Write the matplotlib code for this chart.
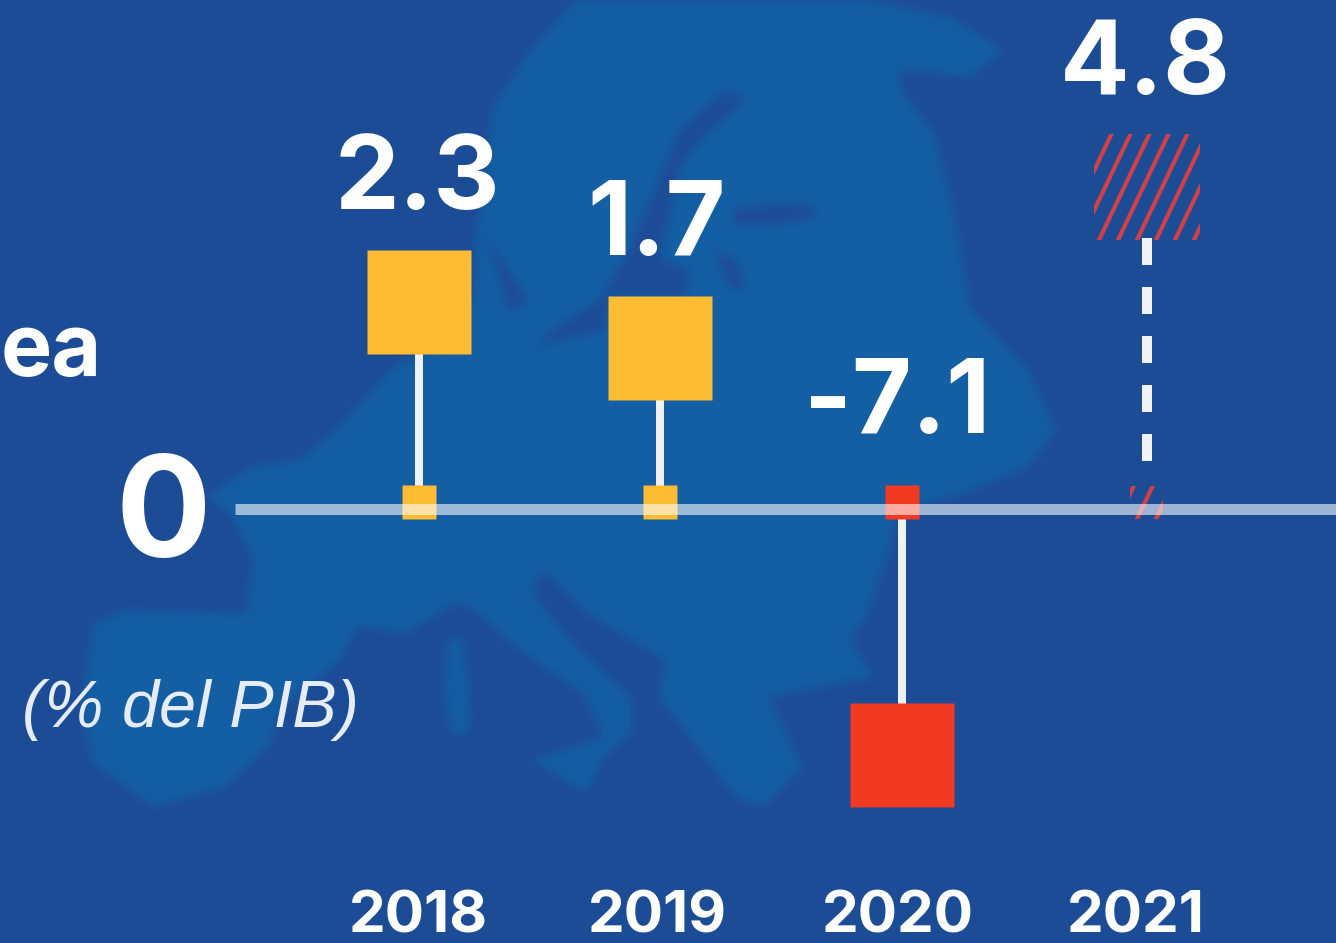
import numpy as np
import matplotlib
matplotlib.use("Agg")
import matplotlib.pyplot as plt
from matplotlib.lines import Line2D
from matplotlib.patches import Rectangle
from matplotlib.transforms import Affine2D

# Data
years = [2018, 2019, 2020, 2021]
values = [2.3, 1.7, -7.1, 4.8]
value_labels = ["2.3", "1.7", "-7.1", "4.8"]
year_labels = ["2018", "2019", "2020", "2021"]
zero_label = "0"
unit_label = "(% del PIB)"
title_fragment = "ea"

# The picture's axes are not linear, so the scales go through these knots
scale_values = [-14, -7.1, 0, 1.7, 2.3, 4.8, 9]
scale_pixels = [-490, -246, 0, 161, 207, 322, 560]
scale_years = [2015, 2018, 2019, 2020, 2021, 2023]
scale_columns = [-304, 419, 660, 902, 1147, 1636]

BG = "#1D4C96"
LAND = "#145EA3"
YELLOW = "#FBBC34"
RED = "#F23A22"
HATCH = "#CF4049"
WHITE = "#FFFFFF"
FONT = "Inter"

# Map silhouette behind the chart, in picture pixels
land_x = [575, 869, 950, 1003, 970, 901, 901, 934, 954, 970, 1028, 1056, 1028, 960, 900, 890, 868, 851, 873,
          769, 802, 763, 736, 697, 659, 664, 587, 543, 532, 576, 631, 631, 604, 587, 532, 604, 582, 516, 478,
          456, 406, 357, 340, 280, 269, 225, 153, 93, 82, 93, 126, 247, 252, 257, 230, 207, 250, 300, 333, 393,
          440, 472, 476, 493, 530]
land_y = [0, 0, 17, 50, 77, 70, 90, 133, 213, 307, 370, 430, 467, 495, 510, 547, 613, 640, 677,
          697, 767, 807, 797, 747, 697, 660, 613, 570, 593, 647, 697, 733, 757, 793, 760, 737, 693, 647, 613,
          603, 633, 627, 660, 710, 747, 787, 807, 763, 713, 623, 610, 613, 563, 567, 513, 497, 467, 460, 433,
          367, 345, 300, 235, 107, 50]
seas = [
    ([726, 745, 705, 680, 672, 660, 690, 685, 611, 603, 534, 560, 600, 630, 655, 680],
     [90, 100, 135, 165, 200, 260, 270, 295, 295, 330, 345, 325, 300, 250, 190, 130]),
    ([734, 770, 812, 815, 770, 734], [210, 205, 205, 218, 224, 224]),
    ([715, 735, 745, 730], [252, 260, 288, 288]),
    ([487, 505, 528, 510], [236, 265, 300, 312]),
]
islands = [([447, 462, 468, 470, 462, 450, 445], [640, 637, 680, 725, 735, 730, 690])]


def forward(v):
    return np.interp(v, scale_values, scale_pixels)


def inverse(p):
    return np.interp(p, scale_pixels, scale_values)


def x_forward(y):
    return np.interp(y, scale_years, scale_columns)


def x_inverse(c):
    return np.interp(c, scale_columns, scale_years)


def px(p):
    return p * 72 / 100


def soft_edge(image, dpi):
    pad = 20
    alpha = np.pad(image[:, :, 3], pad)
    kernel = np.hanning(23)
    kernel = kernel / kernel.sum()
    alpha = np.apply_along_axis(lambda r: np.convolve(r, kernel, mode="same"), 0, alpha)
    alpha = np.apply_along_axis(lambda r: np.convolve(r, kernel, mode="same"), 1, alpha)
    out = np.zeros(alpha.shape + (4,))
    rgb = image[:, :, :3].reshape(-1, 3)
    out[:, :, :3] = rgb[image[:, :, 3].ravel().argmax()]
    out[:, :, 3] = alpha
    return out, -pad, -pad


fig = plt.figure(figsize=(13.36, 9.43), dpi=100, facecolor=BG)

# Background layer in pixel coordinates
ax_bg = fig.add_axes([0, 0, 1, 1], zorder=0)
ax_bg.set_xlim(0, 1336)
ax_bg.set_ylim(943, 0)
ax_bg.axis("off")
ax_bg.fill(land_x, land_y, color=LAND, lw=0, agg_filter=soft_edge)
for sx, sy in seas:
    ax_bg.fill(sx, sy, color=BG, lw=0, agg_filter=soft_edge)
for sx, sy in islands:
    ax_bg.fill(sx, sy, color=LAND, lw=0, agg_filter=soft_edge)
ax_bg.text(51, 375, title_fragment, color=WHITE, fontsize=62, fontweight="bold", family=FONT,
           ha="center", va="baseline")
ax_bg.text(191, 727, unit_label, color="#E6ECF5", fontsize=48, style="italic", family="Liberation Sans",
           ha="center", va="baseline")

# Chart layer
ax = fig.add_axes([0, 0, 1, 1], zorder=1)
ax.patch.set_visible(False)
ax.set_xscale("function", functions=(x_forward, x_inverse))
ax.set_yscale("function", functions=(forward, inverse))
ax.set_xlim(x_inverse(0), x_inverse(1336))
ax.set_ylim(inverse(-434), inverse(509))
ax.axis("off")

ax.plot([x_inverse(235), ax.get_xlim()[1]], [0, 0], color="#FFFFFF", alpha=0.58, lw=px(11),
        solid_capstyle="butt", zorder=4)

small_shift = ax.transData + Affine2D().translate(0, 6.5)
for year, value in zip(years, values):
    colour = RED if value < 0 else YELLOW
    if year == 2021:
        # forecast year: dashed stem and hatched squares
        top = inverse(forward(value) - 51)
        bottom = inverse(47)
        ax.plot([year, year], [top, bottom], color="#F0F3F8", lw=px(10), solid_capstyle="butt",
                dash_capstyle="butt", dashes=(2.7, 2.2), zorder=2)
        for v, half in ((value, 53), (0, 16.5)):
            cx, cy = ax.transData.transform((year, v))
            if v == 0:
                cy += 6.5
            place = Affine2D().translate(cx, cy)
            clip = Rectangle((-half, -half), 2 * half, 2 * half, transform=place)
            for start in np.arange(-10 - 19 * 8, 60, 19):
                stripe = Line2D([start, start + 2 * half / 2.1], [-half, half], color=HATCH, lw=px(4.2),
                                transform=place, zorder=3)
                ax.add_line(stripe)
                stripe.set_clip_path(clip)
    else:
        ax.plot([year, year], [0, value], color="#EEF2F8", lw=px(8), solid_capstyle="butt", zorder=2)
        ax.plot([year], [0], marker="s", ms=px(34), mfc=colour, mec="none", ls="none",
                transform=small_shift, zorder=3)
        ax.plot([year], [value], marker="s", ms=px(104), mfc=colour, mec="none", ls="none", zorder=5)

# Value labels sit above the square, or above the zero line when negative
label_nudge = [-2, -3, -5, -2]
for year, value, text, nudge in zip(years, values, value_labels, label_nudge):
    anchor = max(value, 0)
    rise = 93 if value > 0 else 76
    ax.annotate(text, (year, anchor), xytext=(px(nudge), px(rise)), textcoords="offset points",
                color=WHITE, fontsize=74, fontweight="bold", family=FONT, ha="center", va="baseline",
                zorder=6)

# Year labels under the chart
year_nudge = [-1, -3, -4, -11]
for year, text, nudge in zip(years, year_labels, year_nudge):
    ax.annotate(text, (year, 0), xytext=(px(nudge), px(-424)), textcoords="offset points",
                color=WHITE, fontsize=42, fontweight="bold", family=FONT, ha="center", va="baseline",
                zorder=6)

ax.annotate(zero_label, (2018, 0), xytext=(px(163 - 419), px(-48)), textcoords="offset points",
            color=WHITE, fontsize=102, fontweight="bold", family=FONT, ha="center", va="baseline", zorder=6)

plt.savefig("out.png", dpi=100, facecolor=BG)
